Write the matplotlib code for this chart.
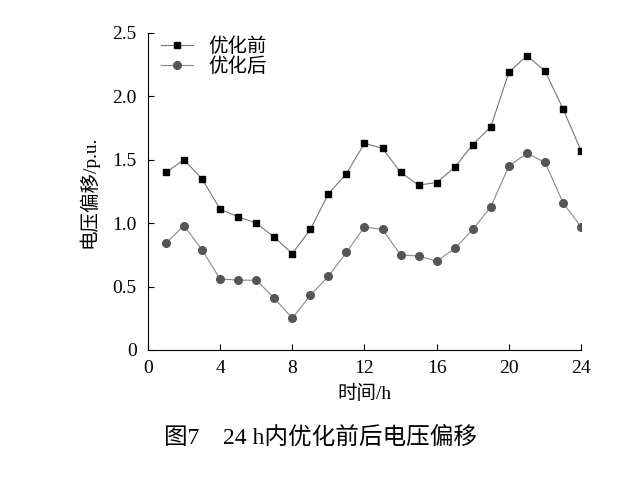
import matplotlib
matplotlib.use("Agg")
import matplotlib.pyplot as plt

hours = list(range(1, 25))
before = [1.40,1.50,1.35,1.11,1.05,1.00,0.89,0.76,0.95,1.23,1.39,1.63,1.59,1.40,1.30,1.32,1.44,1.62,1.76,2.19,2.32,2.20,1.90,1.57]
after = [0.84,0.98,0.79,0.56,0.55,0.55,0.41,0.25,0.43,0.58,0.77,0.97,0.95,0.75,0.74,0.70,0.80,0.95,1.13,1.45,1.55,1.48,1.16,0.97]
xticks = [0, 4, 8, 12, 16, 20, 24]
yticks = [0, 0.5, 1.0, 1.5, 2.0, 2.5]
ylabels = ["0", "0.5", "1.0", "1.5", "2.0", "2.5"]

plt.rcParams['font.family'] = ['Liberation Serif', 'Noto Sans CJK SC']
fig = plt.figure(figsize=(6.4, 4.84), dpi=100)
ax = fig.add_axes([0.231, 0.277, 0.677, 0.655])
ax.plot(hours, before, color='#777777', lw=0.8, marker='s', ms=5, mfc='black', mec='black', label='优化前')
ax.plot(hours, after, color='#888888', lw=0.8, marker='o', ms=5.5, mfc='#555555', mec='#555555', label='优化后')
ax.set_xlim(0, 24)
ax.set_ylim(0, 2.5)
ax.set_xticks(xticks)
ax.set_yticks(yticks)
ax.set_yticklabels(ylabels)
ax.tick_params(direction='in', labelsize=14, length=4)
ax.tick_params(axis='x', pad=7)
ax.tick_params(axis='y', pad=8)
ax.spines['top'].set_visible(False)
ax.spines['right'].set_visible(False)
ax.set_xlabel('时间/h', fontsize=14, labelpad=6)
ax.set_ylabel('电压偏移/p.u.', fontsize=14, labelpad=10)
ax.legend(loc='upper left', bbox_to_anchor=(0.0, 1.03), frameon=False, fontsize=14, handlelength=1.6, borderpad=0.2, labelspacing=0.1)
fig.text(0.5, 0.095, '图7　24 h内优化前后电压偏移', ha='center', va='center', fontsize=17)
fig.savefig('out.png', dpi=100)
